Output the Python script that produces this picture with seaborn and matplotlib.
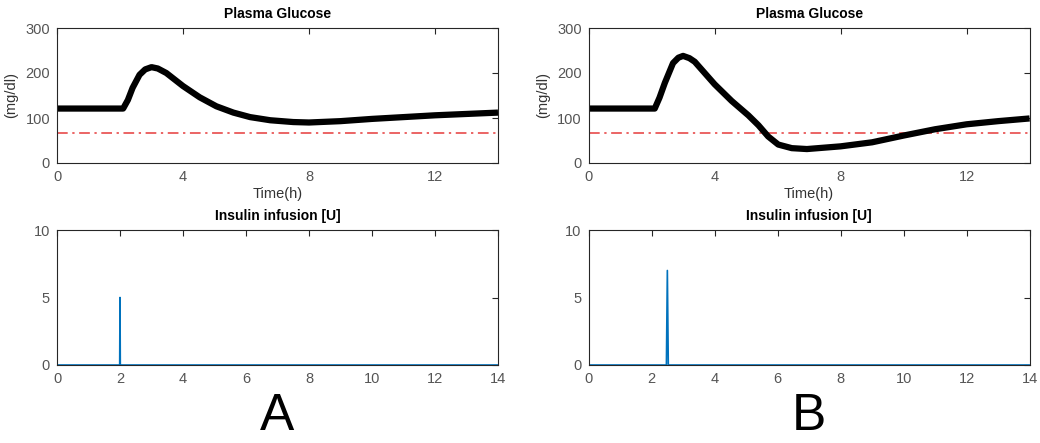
import matplotlib
matplotlib.use("Agg")
import matplotlib.pyplot as plt
import seaborn as sns
import pandas as pd

# ---- data ----
time_a = [0, 2.1, 2.25, 2.4, 2.62, 2.8, 3.0, 3.2, 3.47, 4.0, 4.53, 5.06, 5.6,
          6.13, 6.77, 7.5, 8, 9, 10, 11, 12, 13, 14]
glucose_a = [121, 121, 140, 167, 196, 208, 213, 210, 200, 171, 146, 126, 112,
             102, 95, 91, 90, 93, 98, 102, 106, 109, 112]

time_b = [0, 2.1, 2.25, 2.42, 2.68, 2.85, 3.0, 3.2, 3.37, 4.0, 4.54, 5.07, 5.39,
          5.7, 6.02, 6.45, 6.93, 8, 9, 10, 11, 12, 13, 14]
glucose_b = [121, 121, 145, 178, 222, 234, 238, 233, 225, 175, 138, 106, 84,
             59, 41, 33, 31, 37, 46, 61, 75, 86, 93, 99]

hypo_threshold = 66

ins_time_a = [0, 1.99, 2.0, 2.01, 14]
ins_a = [0, 0, 5, 0, 0]
ins_time_b = [0, 2.47, 2.5, 2.53, 14]
ins_b = [0, 0, 7, 0, 0]

glu_ticks = [0, 4, 8, 12]
glu_yticks = [0, 100, 200, 300]
ins_ticks = [0, 2, 4, 6, 8, 10, 12, 14]
ins_yticks = [0, 5, 10]
panel_labels = ["A", "B"]

# ---- style ----
sns.set_style("white")
plt.rcParams['font.family'] = ['Liberation Sans', 'DejaVu Sans']

fig = plt.figure(figsize=(10.4, 4.43), dpi=100)

axis_color = "#262626"
tick_color = "#555555"

lefts = [57 / 1040, 588.6 / 1040]
width = 441 / 1040
height = 135 / 443
bottom_top = (443 - 163) / 443
bottom_bot = (443 - 365) / 443


def style_axes(ax):
    for s in ax.spines.values():
        s.set_color(axis_color)
        s.set_linewidth(0.8)
        s.set_visible(True)
    ax.tick_params(direction="in", top=True, right=True, length=4,
                   width=0.8, color=axis_color, labelcolor=tick_color,
                   labelsize=10.5, pad=5)


datasets = [(time_a, glucose_a, ins_time_a, ins_a),
            (time_b, glucose_b, ins_time_b, ins_b)]

for i, (tg, g, ti, ins) in enumerate(datasets):
    ax1 = fig.add_axes([lefts[i], bottom_top, width, height])
    ax1.axhline(hypo_threshold, color="#e63a3a", linestyle=(0, (7, 3, 1.5, 3)),
                linewidth=1.1, zorder=1)
    df = pd.DataFrame({"t": tg, "g": g})
    sns.lineplot(data=df, x="t", y="g", ax=ax1, color="black", linewidth=4.5,
                 estimator=None, sort=False, solid_joinstyle="round",
                 solid_capstyle="butt", zorder=2)
    ax1.set_xlim(0, 14)
    ax1.set_ylim(0, 300)
    ax1.set_xticks(glu_ticks)
    ax1.set_yticks(glu_yticks)
    ax1.set_title("Plasma Glucose", fontsize=10, fontweight="bold",
                  color="black", pad=7)
    ax1.set_xlabel("Time(h)", fontsize=10.5, color="#333333", labelpad=2)
    ax1.set_ylabel("(mg/dl)", fontsize=10.5, color="#333333", labelpad=5)
    style_axes(ax1)

    ax2 = fig.add_axes([lefts[i], bottom_bot, width, height])
    dfi = pd.DataFrame({"t": ti, "u": ins})
    sns.lineplot(data=dfi, x="t", y="u", ax=ax2, color="#0072BD",
                 linewidth=1.2, estimator=None, sort=False)
    ax2.set_xlim(0, 14)
    ax2.set_ylim(0, 10)
    ax2.set_xticks(ins_ticks)
    ax2.set_yticks(ins_yticks)
    ax2.set_title("Insulin infusion [U]", fontsize=10, fontweight="bold",
                  color="black", pad=7)
    ax2.set_xlabel("")
    ax2.set_ylabel("")
    style_axes(ax2)

    fig.text(lefts[i] + width / 2, 0.005, panel_labels[i], ha="center",
             va="bottom", fontsize=37, color="black")

fig.savefig("out.png", dpi=100)
